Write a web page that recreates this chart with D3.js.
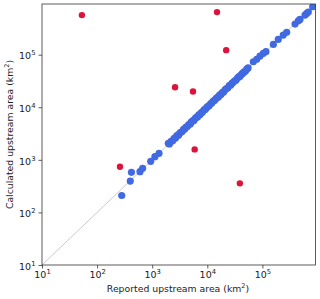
<!DOCTYPE html>
<html><head><meta charset="utf-8">
<script src="https://cdn.jsdelivr.net/npm/d3@7"></script>
<style>body{margin:0;background:#fff}svg{display:block}text{font-family:"DejaVu Sans",sans-serif;fill:#222}</style>
</head><body><svg id="c" width="320" height="299"></svg>
<script>
const axisMin = 10, axisMax = 920000;
const tickValues = [10, 100, 1000, 10000, 100000];
const tickExponents = ["1", "2", "3", "4", "5"];
// Matching stations (blue)
const reported = [280,400,420,600,670,940,1120,1330,1960,
 2050,2200,2350,2500,2650,2800,3000,3150,3300,3500,3700,3900,4100,4300,4600,4900,5100,5400,5700,6000,6300,6700,7000,7400,7800,8200,8700,9200,9700,10200,10800,11500,12100,12800,13500,14300,15000,15900,16800,17700,18700,19800,21000,22000,23500,25000,26500,28000,29500,31000,33000,35000,37000,39000,41000,43500,46000,49000,52000,55000,
 68400,78900,90400,104000,116000,158000,194000,239000,276000,391000,449000,481000,593000,637000,681000,818000,920000];
const calculated = [210,395,580,595,690,935,1150,1330,2060,
 2000,2250,2300,2550,2600,2900,2950,3200,3350,3450,3800,3850,4200,4250,4700,4800,5200,5500,5600,6100,6400,6600,7200,7300,7900,8100,8900,9100,9800,10400,10700,11700,12000,13100,13400,14500,15300,15700,17200,17500,19000,19600,21500,22400,23200,25800,26200,28500,29800,31500,32500,35500,37800,38500,41500,44000,46500,48500,53000,56000,
 73300,81500,94000,106000,114000,157000,195000,236000,266000,382000,441000,469000,566000,610000,645000,815000,920000];
// Mismatched stations (red)
const outReported = [53,15000,22000,2600,5500,5900,39000,260];
const outCalculated = [566000,645000,122000,24000,20000,1580,357,740];

const svg = d3.select("#c");
const L = 42, T = 4, R = 315.5, B = 265;
const x = d3.scaleLog().domain([axisMin, axisMax]).range([L, R]);
const y = d3.scaleLog().domain([axisMin, axisMax]).range([B, T]);

svg.append("defs").append("clipPath").attr("id","cp")
  .append("rect").attr("x",L).attr("y",T).attr("width",R-L).attr("height",B-T);
const g = svg.append("g").attr("clip-path","url(#cp)");

g.append("line").attr("x1",x(axisMin)).attr("y1",y(axisMin)).attr("x2",x(axisMax)).attr("y2",y(axisMax))
  .attr("stroke","#bdbdbd").attr("stroke-width",0.8);

g.selectAll("circle.b").data(reported.map((r,i)=>[r,calculated[i]])).join("circle")
  .attr("class","b").attr("cx",d=>x(d[0])).attr("cy",d=>y(d[1])).attr("r",3.6).attr("fill","#4169e1");
g.selectAll("circle.r").data(outReported.map((r,i)=>[r,outCalculated[i]])).join("circle")
  .attr("class","r").attr("cx",d=>x(d[0])).attr("cy",d=>y(d[1])).attr("r",3.2).attr("fill","#dc143c");

function fmt(sel){
  sel.each(function(d){
    const t = d3.select(this); t.text(null);
    t.append("tspan").text("10");
    t.append("tspan").attr("dy",-4).attr("font-size",6.8).text(tickExponents[tickValues.indexOf(d)]);
  });
}
const xa = svg.append("g").attr("transform",`translate(0,${B})`)
  .call(d3.axisBottom(x).tickValues(tickValues).tickSize(3.5).tickPadding(3).tickFormat(()=>""));
xa.selectAll("text").data(tickValues).attr("font-size",9.5).call(fmt);
const ya = svg.append("g").attr("transform",`translate(${L},0)`)
  .call(d3.axisLeft(y).tickValues(tickValues).tickSize(3.5).tickPadding(3).tickFormat(()=>""));
ya.selectAll("text").data(tickValues).attr("font-size",9.5).attr("dy","0.45em").call(fmt);
[xa,ya].forEach(a=>{a.select(".domain").remove(); a.selectAll("line").attr("stroke","#333").attr("stroke-width",0.8); a.selectAll("text").attr("fill","#222");});

svg.append("rect").attr("x",L).attr("y",T).attr("width",R-L).attr("height",B-T)
  .attr("fill","none").attr("stroke","#333").attr("stroke-width",0.8);

const xl = svg.append("text").attr("x",178).attr("y",292).attr("text-anchor","middle").attr("font-size",9.3);
xl.append("tspan").text("Reported upstream area (km");
xl.append("tspan").attr("dy",-4).attr("font-size",6.5).text("2");
xl.append("tspan").attr("dy",4).text(")");
const yl = svg.append("text").attr("transform",`translate(13,${(T+B)/2}) rotate(-90)`).attr("text-anchor","middle").attr("font-size",9.3);
yl.append("tspan").text("Calculated upstream area (km");
yl.append("tspan").attr("dy",-4).attr("font-size",6.5).text("2");
yl.append("tspan").attr("dy",4).text(")");
</script></body></html>
